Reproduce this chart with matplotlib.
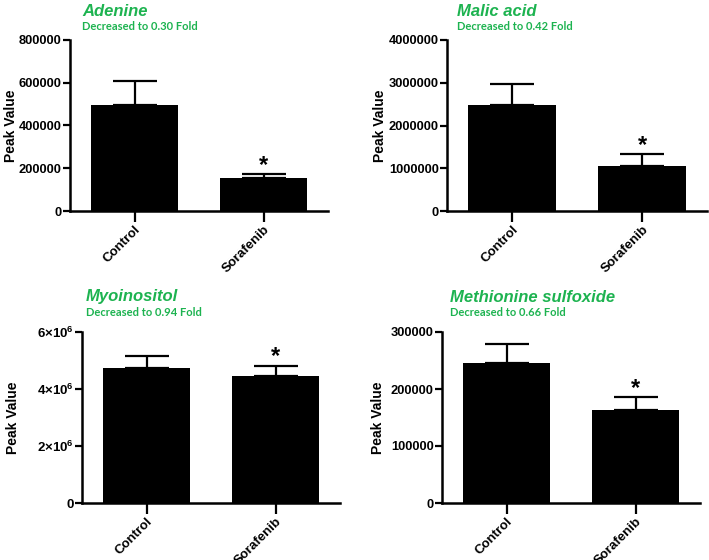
import matplotlib
matplotlib.use('Agg')
import matplotlib.pyplot as plt
import matplotlib.ticker as mticker

plt.rcParams['font.family'] = ['Liberation Sans', 'DejaVu Sans']
plt.rcParams['mathtext.fontset'] = 'custom'
plt.rcParams['mathtext.rm'] = 'Liberation Sans:bold'
plt.rcParams['mathtext.bf'] = 'Liberation Sans:bold'

groups = ['Control', 'Sorafenib']

names = ['Adenine', 'Malic acid', 'Myoinositol', 'Methionine sulfoxide']
folds = ['0.30', '0.42', '0.94', '0.66']
means = [[496000, 154000], [2480000, 1050000], [4720000, 4450000], [246000, 163000]]
errs = [[113000, 19000], [490000, 280000], [430000, 370000], [33000, 23000]]
ymax = [800000, 4000000, 6000000, 300000]
ystep = [200000, 1000000, 2000000, 100000]

green = '#1db350'
W, H = 709, 560
# axes boxes in pixels: left, top, right, bottom
boxes = [(70, 40, 328, 211), (447, 40, 707, 211),
         (82, 332, 340, 503), (442, 332, 700, 503)]
ylab_x = [11, 380, 13, 378]

fig = plt.figure(figsize=(W / 100, H / 100), dpi=100)

for i in range(4):
    l, t, r, b = boxes[i]
    ax = fig.add_axes([l / W, 1 - b / H, (r - l) / W, (b - t) / H])
    x = [0, 1]
    ax.bar(x, means[i], width=0.68, color='black')
    ax.errorbar(x, means[i], yerr=[[0, 0], errs[i]], fmt='none', ecolor='black',
                elinewidth=1.6, capsize=16, capthick=1.6)
    ax.set_xlim(-0.5, 1.5)
    ax.set_ylim(0, ymax[i])
    ax.yaxis.set_major_locator(mticker.MultipleLocator(ystep[i]))
    if i == 2:
        ax.yaxis.set_major_formatter(mticker.FuncFormatter(
            lambda v, p: '0' if v == 0 else r'$%d{\times}10^{6}$' % round(v / 1e6)))
    else:
        ax.yaxis.set_major_formatter(mticker.FuncFormatter(lambda v, p: '%d' % v))
    ax.set_xticks(x)
    ax.set_xticklabels(groups, rotation=45, ha='right', rotation_mode='anchor',
                       fontsize=9.5, fontweight='bold')
    for lab in ax.get_yticklabels():
        lab.set_fontweight('bold')
        lab.set_fontsize(9.5 if i == 2 else 9.3)
    ax.tick_params(axis='x', length=8, width=1.6, pad=1)
    ax.tick_params(axis='y', length=5, width=1.6, pad=1)
    for s in ['top', 'right']:
        ax.spines[s].set_visible(False)
    for s in ['left', 'bottom']:
        ax.spines[s].set_linewidth(1.8)

    # significance star
    ax.text(1, means[i][1] + errs[i][1] - ymax[i] * 0.015, '*', ha='center', va='bottom',
            fontsize=17, fontweight='bold')

    # y label
    fig.text(ylab_x[i] / W, 1 - (t + b) / 2 / H, 'Peak Value', rotation=90,
             ha='center', va='center', fontsize=10, fontweight='bold')

    # titles
    tx = [82, 457, 86, 450][i]
    ty = 11 if i < 2 else 297
    fig.text(tx / W, 1 - ty / H, names[i], color=green, fontsize=12,
             fontweight='bold', fontstyle='italic', va='center', ha='left')
    fig.text(tx / W, 1 - (ty + 16) / H, 'Decreased to %s Fold' % folds[i], color=green,
             fontsize=8, fontweight='bold', va='center', ha='left',
             family=['Lato', 'DejaVu Sans'])

fig.savefig('out.png', dpi=100)
